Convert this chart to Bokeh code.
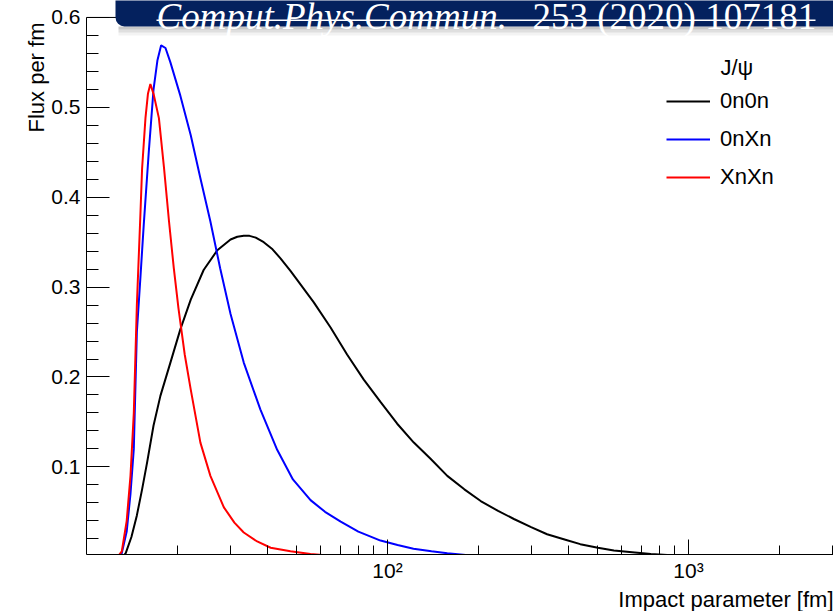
import math
from bokeh.plotting import figure
from bokeh.models import (Range1d, FixedTicker, Label, BoxAnnotation, Legend,
                          LegendItem, Span, CustomJSTickFormatter, Title)
from bokeh.embed import file_html
from bokeh.resources import INLINE

# ---- data ----
x_0n0n = [13.2, 13.5, 14.1, 14.7, 15.3, 15.9, 16.7, 17.6, 19.0, 20.5, 22.2, 24.5,
          27.2, 30.1, 31.7, 33.3, 34.8, 36.5, 38.8, 41.5, 44.1, 47.6, 50.1, 56.9,
          64.7, 73.4, 83.4, 94.9, 107.7, 122.3, 139, 158, 180, 204, 233, 263, 300,
          339, 390, 437, 500, 565, 650, 750, 850]
y_0n0n = [0.0, 0.004, 0.022, 0.046, 0.075, 0.105, 0.146, 0.179, 0.216, 0.253, 0.286,
          0.319, 0.341, 0.353, 0.356, 0.357, 0.357, 0.355, 0.350, 0.342, 0.332,
          0.318, 0.308, 0.283, 0.255, 0.225, 0.197, 0.172, 0.148, 0.127, 0.109,
          0.090, 0.075, 0.062, 0.051, 0.042, 0.033, 0.025, 0.019, 0.014, 0.010,
          0.007, 0.005, 0.003, 0.002]

x_0nXn = [12.9, 13.1, 13.6, 14.0, 14.36, 14.7, 15.1, 15.5, 16.1, 16.7, 17.2, 17.7,
          18.3, 19.0, 20.5, 22.2, 23.9, 25.8, 27.8, 30.1, 33.3, 37.8, 43.0, 48.5,
          55.5, 62, 69.9, 80, 94.8, 108, 122, 140, 158, 193]
y_0nXn = [0.0, 0.004, 0.028, 0.07, 0.12, 0.25, 0.31, 0.37, 0.45, 0.52, 0.552, 0.569,
          0.566, 0.550, 0.513, 0.469, 0.421, 0.373, 0.321, 0.270, 0.216, 0.164,
          0.119, 0.086, 0.063, 0.050, 0.039, 0.028, 0.018, 0.013, 0.009, 0.006,
          0.004, 0.001]

x_XnXn = [12.7, 13.1, 13.6, 14.0, 14.36, 14.7, 15.1, 15.3, 15.7, 16.0, 16.3, 16.7,
          17.4, 18.1, 18.8, 19.5, 20.2, 21.2, 22.2, 23.9, 25.8, 28.6, 31.0, 33.3,
          36.9, 40.9, 47.6, 55.5, 65]
y_XnXn = [0.0, 0.006, 0.04, 0.09, 0.16, 0.28, 0.38, 0.432, 0.488, 0.515, 0.526,
          0.515, 0.488, 0.432, 0.373, 0.321, 0.277, 0.225, 0.186, 0.127, 0.090,
          0.055, 0.038, 0.027, 0.017, 0.010, 0.006, 0.003, 0.001]

series_names = ["0n0n", "0nXn", "XnXn"]
legend_header = "J/ψ"

y_major_ticks = [0.1, 0.2, 0.3, 0.4, 0.5, 0.6]
y_minor_ticks = [0.02, 0.04, 0.06, 0.08, 0.12, 0.14, 0.16, 0.18, 0.22, 0.24, 0.26,
                 0.28, 0.32, 0.34, 0.36, 0.38, 0.42, 0.44, 0.46, 0.48, 0.52, 0.54,
                 0.56, 0.58]
x_major_ticks = [100, 1000]
x_minor_ticks = [20, 30, 40, 50, 60, 70, 80, 90, 200, 300, 400, 500, 600, 700,
                 800, 900, 2000, 3000]

x_title = "Impact parameter [fm]"
y_title = "Flux per fm"
banner_italic = "Comput.Phys.Commun."
banner_plain = "253 (2020) 107181"

FONT = "Liberation Sans"
NAVY = "#04215e"

# frame: left=86, right=833, top of axes (0.6) at y=17, bottom=556
FL, FB = 86, 556
Y0, Y6 = 0.0025, 0.6
PPU = (FB - 17) / (Y6 - Y0)          # pixels per unit on y
Y_TOP = Y6 + 17 / PPU                # frame reaches the canvas top

p = figure(width=833, height=611, x_axis_type="log",
           x_range=Range1d(10, 3032), y_range=Range1d(Y0, Y_TOP),
           output_backend="svg", toolbar_location=None,
           min_border_left=FL, min_border_right=0, min_border_top=0,
           min_border_bottom=611 - FB)
p.background_fill_color = "white"
p.border_fill_color = "white"
p.outline_line_color = None
p.grid.visible = False

r1 = p.line(x_0n0n, y_0n0n, line_color="black", line_width=2)
r2 = p.line(x_0nXn, y_0nXn, line_color="#0000ff", line_width=2)
r3 = p.line(x_XnXn, y_XnXn, line_color="#ff0000", line_width=2)

# top frame line
p.add_layout(Span(location=Y6, dimension="width", line_color="black", line_width=1))

# axes
xa = p.xaxis[0]
xa.ticker = FixedTicker(ticks=x_major_ticks, minor_ticks=x_minor_ticks)
xa.formatter = CustomJSTickFormatter(code="""
    const t = Math.round(tick);
    if (t == 100) return '10\u00b2';
    if (t == 1000) return '10\u00b3';
    return '';
""")
xa.major_tick_in = 15
xa.major_tick_out = 0
xa.minor_tick_in = 9
xa.minor_tick_out = 0
xa.major_label_standoff = 4
xa.major_label_text_font = FONT
xa.major_label_text_font_size = "21px"
xa.major_label_text_color = "black"
xa.axis_line_color = "black"
xa.major_tick_line_color = "black"
xa.minor_tick_line_color = "black"

ya = p.yaxis[0]
ya.ticker = FixedTicker(ticks=y_major_ticks, minor_ticks=y_minor_ticks)
ya.bounds = (Y0, Y6)
ya.major_tick_in = 23
ya.major_tick_out = 0
ya.minor_tick_in = 12
ya.minor_tick_out = 0
ya.major_label_standoff = 6
ya.major_label_text_font = FONT
ya.major_label_text_font_size = "21px"
ya.major_label_text_color = "black"
ya.axis_line_color = "black"
ya.major_tick_line_color = "black"
ya.minor_tick_line_color = "black"

# axis titles
p.add_layout(Title(text=y_title, align="right", text_font=FONT, text_font_size="22px",
                   text_font_style="normal", text_color="black", standoff=0,
                   offset=22), "left")
p.add_layout(Title(text=x_title, align="right", text_font=FONT, text_font_size="22px",
                   text_font_style="normal", text_color="black", standoff=0), "below")

# legend
legend = Legend(items=[LegendItem(label=series_names[0], renderers=[r1]),
                       LegendItem(label=series_names[1], renderers=[r2]),
                       LegendItem(label=series_names[2], renderers=[r3])],
                location=(666 - FL, FB - 192), orientation="vertical")
legend.glyph_width = 44
legend.glyph_height = 20
legend.label_height = 20
legend.label_standoff = 10
legend.spacing = 12
legend.padding = 0
legend.margin = 0
legend.border_line_color = None
legend.background_fill_alpha = 0
legend.label_text_font = FONT
legend.label_text_font_size = "22px"
legend.label_text_color = "black"
p.add_layout(legend, "center")
p.add_layout(Label(x=720 - FL, y=FB - 69, x_units="screen", y_units="screen",
                   text=legend_header, text_align="left", text_baseline="middle",
                   text_font=FONT, text_font_size="22px", text_color="black"))

# banner (shadow, box, text, underline)
for (y0, y1, a) in [(28, 31, 0.35), (31, 34, 0.2), (34, 37, 0.08)]:
    p.add_layout(BoxAnnotation(left=115 - FL + 3, right=900, bottom=FB - y1, top=FB - y0,
                               left_units="screen", right_units="screen",
                               bottom_units="screen", top_units="screen",
                               fill_color="#606060", fill_alpha=a, line_color=None))
p.add_layout(BoxAnnotation(left=115 - FL, right=900, bottom=FB - 28, top=FB + 40,
                           left_units="screen", right_units="screen",
                           bottom_units="screen", top_units="screen",
                           fill_color=NAVY, fill_alpha=1.0, line_color=None,
                           border_radius=9))
p.add_layout(Label(x=156 - FL, y=FB - 18, x_units="screen", y_units="screen",
                   text=banner_italic, text_align="left", text_baseline="alphabetic",
                   text_font="Liberation Serif", text_font_style="italic",
                   text_font_size="37px", text_color="white"))
p.add_layout(Label(x=532 - FL, y=FB - 18, x_units="screen", y_units="screen",
                   text=banner_plain, text_align="left", text_baseline="alphabetic",
                   text_font="Liberation Serif", text_font_size="37px",
                   text_color="white"))
p.add_layout(BoxAnnotation(left=156 - FL, right=815 - FL, bottom=FB - 22.5, top=FB - 21,
                           left_units="screen", right_units="screen",
                           bottom_units="screen", top_units="screen",
                           fill_color="white", fill_alpha=1.0, line_color=None))

open("out.html", "w").write(file_html(p, INLINE))
